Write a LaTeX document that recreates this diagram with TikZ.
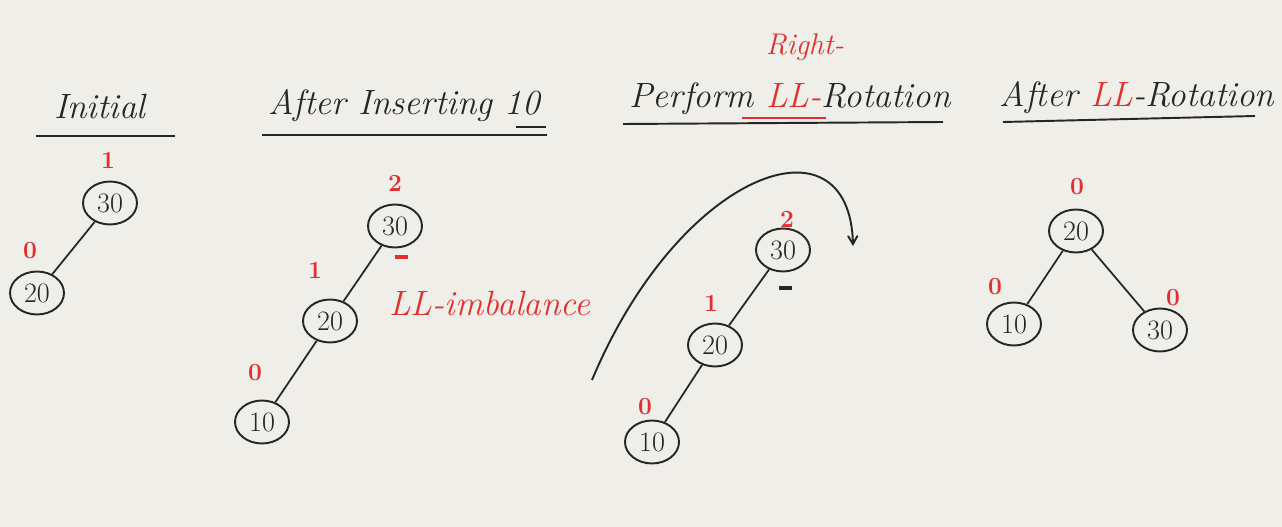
\documentclass[tikz,border=0pt]{standalone}
\usepackage{tikz}
\usetikzlibrary{arrows,shapes,positioning,calc}
\definecolor{board}{RGB}{240,238,233}
\definecolor{marker}{RGB}{226,48,48}
\definecolor{ink}{RGB}{38,38,38}

\begin{document}
\begin{tikzpicture}[x=0.02cm,y=-0.02cm,
	key/.style={draw=ink, line width=1.1pt, ellipse, inner sep=0pt, minimum width=1.08cm, minimum height=0.86cm, text=ink, font=\fontsize{16}{16}\selectfont},
	bf/.style={text=marker, font=\fontsize{14}{14}\selectfont\bfseries},
	title/.style={text=ink, font=\fontsize{20}{20}\selectfont\itshape},
	link/.style={draw=ink, line width=1pt}]
	\fill[board] (0,0) rectangle (1282,527);
	
	% Initial
	\node[title] (t1) at (100,106) {Initial};
	\draw[ink, line width=1.1pt] (36,136) -- (175,136);
	\node[key] (a30) at (110,203) {30};
	\node[key] (a20) at (37,293) {20};
	\node[bf] (ba30) at (108,160) {1};
	\node[bf] (ba20) at (30,251) {0};
	\draw[link] (a30) -- (a20);
	
	% After inserting 10
	\node[title] (t2) at (404,106) {After Inserting 10};
	\draw[ink, line width=1.1pt] (262,135) -- (547,135);
	\draw[ink, line width=1.1pt] (516,127) -- (546,127);
	\node[key] (b30) at (395,226) {30};
	\node[key] (b20) at (330,321) {20};
	\node[key] (b10) at (262,422) {10};
	\node[bf] (bb30) at (395,183) {2};
	\node[bf] (bb20) at (315,270) {1};
	\node[bf] (bb10) at (255,373) {0};
	\node[text=marker, inner sep=0pt] (mb30) at (401,257) {\rule{0.26cm}{2.4pt}};
	\node[text=marker, font=\fontsize{20}{20}\selectfont\itshape] (imb) at (490,303) {LL-imbalance};
	\draw[link] (b30) -- (b20);
	\draw[link] (b20) -- (b10);
	
	% Perform rotation
	\node[text=marker, font=\fontsize{17}{17}\selectfont\itshape] (rgt) at (805,47) {Right-};
	\node[title] (t3) at (790,99) {Perform \textcolor{marker}{LL-}Rotation};
	\draw[ink, line width=1.1pt] (623,124) -- (943,122);
	\draw[marker, line width=1.1pt] (742,118) -- (826,118);
	\node[key] (c30) at (783,250) {30};
	\node[key] (c20) at (715,345) {20};
	\node[key] (c10) at (652,442) {10};
	\node[bf] (bc30) at (787,219) {2};
	\node[bf] (bc20) at (711,303) {1};
	\node[bf] (bc10) at (645,407) {0};
	\node[text=ink, inner sep=0pt] (mc30) at (785,288) {\rule{0.26cm}{2.4pt}};
	\draw[link] (c30) -- (c20);
	\draw[link] (c20) -- (c10);
	\coordinate (rs) at (592,380);
	\coordinate (re) at (853,246);
	\draw[ink, line width=1.1pt, ->, >=angle 60] (rs) .. controls (680,170) and (850,110) .. (re);
	
	% After rotation
	\node[title] (t4) at (1137,98) {After \textcolor{marker}{LL}-Rotation};
	\draw[ink, line width=1.1pt] (1003,122) -- (1255,116);
	\node[key] (d20) at (1076,231) {20};
	\node[key] (d10) at (1014,324) {10};
	\node[key] (d30) at (1160,330) {30};
	\node[bf] (bd20) at (1077,187) {0};
	\node[bf] (bd10) at (995,287) {0};
	\node[bf] (bd30) at (1173,298) {0};
	\draw[link] (d20) -- (d10);
	\draw[link] (d20) -- (d30);
\end{tikzpicture}
\end{document}
